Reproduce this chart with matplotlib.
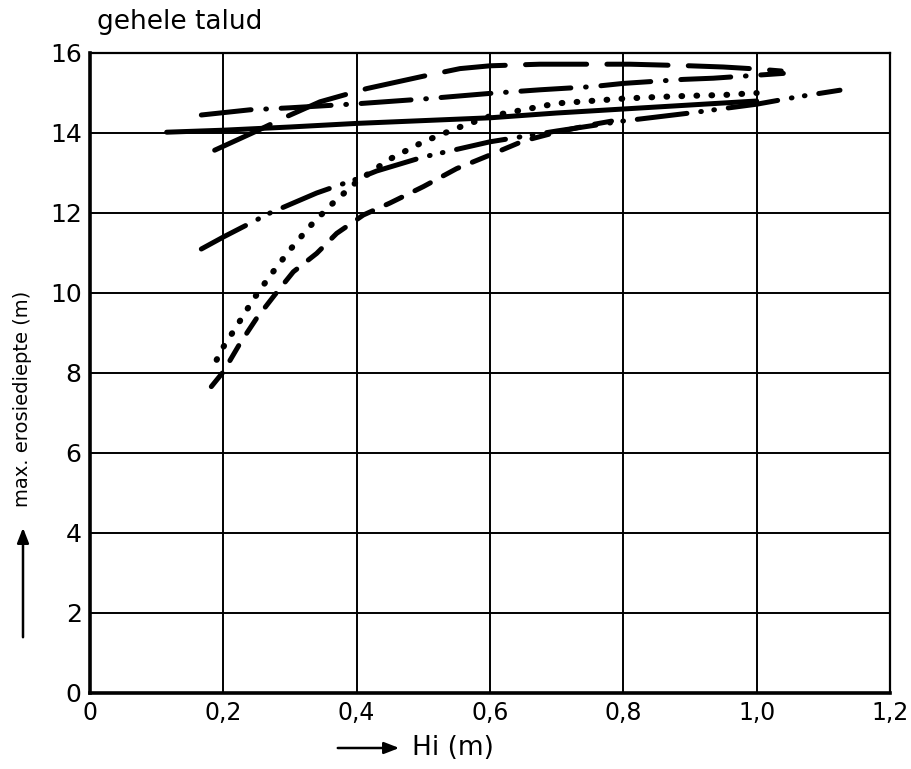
import matplotlib
matplotlib.use("Agg")
import matplotlib.pyplot as plt

plt.rcParams["font.family"] = "DejaVu Sans"
plt.rcParams["lines.scale_dashes"] = False

# curves (Hi in m, max. erosiediepte in m)
solid_x = [0.115, 0.2, 0.3, 0.4, 0.5, 0.6, 0.7, 0.8, 0.9, 1.0]
solid_y = [14.02, 14.07, 14.15, 14.24, 14.31, 14.38, 14.5, 14.6, 14.7, 14.8]

longdash_x = [0.187, 0.25, 0.295, 0.345, 0.415, 0.5, 0.555, 0.6, 0.675, 0.75, 0.81, 0.9, 0.95, 1.0, 1.037]
longdash_y = [13.57, 14.05, 14.41, 14.78, 15.11, 15.42, 15.61, 15.68, 15.72, 15.72, 15.72, 15.68, 15.65, 15.6, 15.55]

dashdot_x = [0.167, 0.24, 0.3, 0.4, 0.5, 0.6, 0.675, 0.754, 0.8, 0.89, 0.935, 1.04]
dashdot_y = [14.45, 14.58, 14.63, 14.73, 14.85, 14.99, 15.08, 15.16, 15.24, 15.34, 15.37, 15.49]

dashdotdot_x = [0.167, 0.2, 0.27, 0.34, 0.4, 0.43, 0.5, 0.6, 0.7, 0.8, 0.9, 1.0, 1.06, 1.125]
dashdotdot_y = [11.1, 11.4, 12.0, 12.5, 12.85, 13.05, 13.4, 13.78, 14.05, 14.3, 14.5, 14.72, 14.9, 15.07]

dotted_x = [0.19, 0.2, 0.22, 0.245, 0.27, 0.3, 0.33, 0.36, 0.4, 0.45, 0.5, 0.55, 0.6, 0.65, 0.7,
            0.75, 0.8, 0.85, 0.9, 0.95, 1.0]
dotted_y = [8.33, 8.65, 9.17, 9.84, 10.43, 11.08, 11.67, 12.18, 12.78, 13.35, 13.78, 14.12, 14.42,
            14.58, 14.74, 14.8, 14.86, 14.9, 14.93, 14.95, 15.0]

dashed_x = [0.182, 0.2, 0.225, 0.25, 0.277, 0.305, 0.34, 0.37, 0.41, 0.45, 0.5, 0.55, 0.6, 0.65,
            0.7, 0.75, 0.8]
dashed_y = [7.66, 8.03, 8.74, 9.37, 9.95, 10.53, 10.99, 11.49, 11.95, 12.25, 12.66, 13.11, 13.45,
            13.8, 14.02, 14.2, 14.35]

xticks = [0, 0.2, 0.4, 0.6, 0.8, 1.0, 1.2]
xtick_labels = ["0", "0,2", "0,4", "0,6", "0,8", "1,0", "1,2"]
yticks = [0, 2, 4, 6, 8, 10, 12, 14, 16]

fig = plt.figure(figsize=(9.11, 7.69), dpi=100)
ax = fig.add_axes([90 / 911, 1 - 693 / 769, 800 / 911, 640 / 769])

lw = 3.6
style = dict(color="black", lw=lw, dash_capstyle="round", solid_capstyle="round")
ax.plot(solid_x, solid_y, **style)
ax.plot(longdash_x, longdash_y, dashes=[44, 14.6], **style)
ax.plot(dashdot_x, dashdot_y, dashes=[36, 10.6, 0.5, 10.6], **style)
ax.plot(dashdotdot_x, dashdotdot_y, dashes=[36, 10, 0.5, 9, 0.5, 10], **style)
ax.plot(dotted_x, dotted_y, color="black", lw=4.4, dashes=[0.5, 10.3], dash_capstyle="round")
ax.plot(dashed_x, dashed_y, dashes=[12.5, 10.6], **style)

ax.set_xlim(0, 1.2)
ax.set_ylim(0, 16)
ax.set_xticks(xticks)
ax.set_xticklabels(xtick_labels)
ax.set_yticks(yticks)
ax.grid(True, color="black", lw=1.4)
ax.tick_params(length=0)
ax.tick_params(axis="x", labelsize=17, pad=6)
ax.tick_params(axis="y", labelsize=18, pad=6)
for side in ["top", "right"]:
    ax.spines[side].set_linewidth(1.6)
for side in ["left", "bottom"]:
    ax.spines[side].set_linewidth(2.6)

fig.text(97 / 911, 1 - 22 / 769, "gehele talud", fontsize=19, ha="left", va="center")
fig.text(23 / 911, 1 - 399 / 769, "max. erosiediepte (m)", fontsize=14, rotation=90,
         ha="center", va="center")
fig.text(412 / 911, 1 - 748 / 769, "Hi (m)", fontsize=19, ha="left", va="center")

arrow = dict(arrowstyle="-|>,head_length=0.9,head_width=0.35", color="black", lw=1.8)
ax.annotate("", xy=(23, 769 - 525), xytext=(23, 769 - 640), xycoords="figure pixels",
            textcoords="figure pixels", arrowprops=arrow)
ax.annotate("", xy=(402, 769 - 748), xytext=(335, 769 - 748), xycoords="figure pixels",
            textcoords="figure pixels", arrowprops=arrow)

fig.savefig("out.png", dpi=100)
